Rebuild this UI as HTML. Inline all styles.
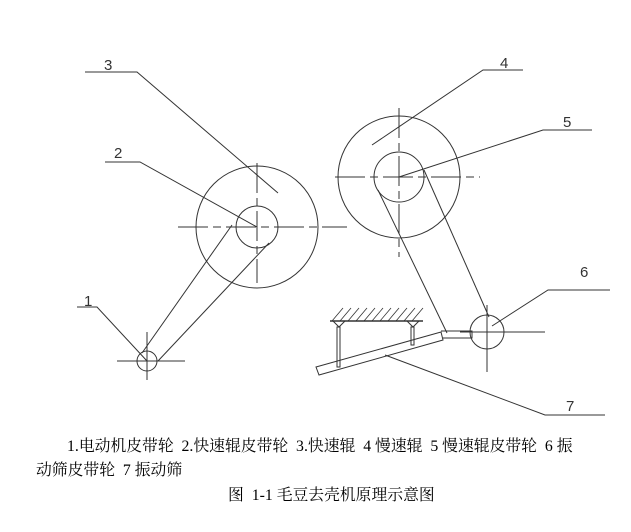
<!DOCTYPE html>
<html><head><meta charset="utf-8"><style>
body{margin:0;background:#fff;width:631px;height:532px;overflow:hidden;position:relative;font-family:"Liberation Serif","Noto Serif CJK SC",serif;}
.t{position:absolute;font-size:15.8px;color:#000;white-space:nowrap;}
</style></head><body>
<svg width="631" height="532" style="position:absolute;left:0;top:0" stroke="#333" fill="none" stroke-width="1">
<g font-family="Liberation Sans, sans-serif" font-size="15" fill="#333" stroke="none">
<text x="104" y="70">3</text><text x="114" y="158">2</text><text x="84" y="306">1</text>
<text x="500" y="68">4</text><text x="563" y="127">5</text><text x="580" y="277">6</text><text x="566" y="411">7</text>
</g>
<circle cx="257" cy="227" r="61"/><circle cx="257" cy="227" r="21"/>
<line x1="178" y1="227" x2="347" y2="227" stroke-dasharray="30,5,8,5"/>
<line x1="257" y1="163" x2="257" y2="283" stroke-dasharray="30,5,8,5"/>
<circle cx="147" cy="361" r="10"/>
<line x1="117" y1="361" x2="185" y2="361"/><line x1="147" y1="332" x2="147" y2="380"/>
<line x1="232" y1="225" x2="142" y2="353"/><line x1="269" y1="243" x2="158" y2="361"/>
<circle cx="399" cy="177" r="61"/><circle cx="399" cy="177" r="25"/>
<line x1="335" y1="177" x2="480" y2="177" stroke-dasharray="30,5,8,5"/>
<line x1="399" y1="108" x2="399" y2="257" stroke-dasharray="30,5,8,5"/>
<line x1="378" y1="190" x2="447" y2="333"/><line x1="424" y1="170" x2="489" y2="317"/>
<circle cx="487" cy="332" r="17"/>
<line x1="460" y1="332" x2="545" y2="332"/><line x1="487" y1="305" x2="487" y2="372"/>
<polyline points="85,72 137,72 278,193"/>
<polyline points="105,162 140,162 257,227"/>
<polyline points="77,307 97,307 147,361"/>
<polyline points="372,145 483,70 523,70"/>
<polyline points="399,177 543,130 592,130"/>
<polyline points="492,326 548,290 610,290"/>
<polyline points="385,355 545,415 605,415"/>
<line x1="330" y1="321" x2="423" y2="321" stroke-width="1.5"/>
<g stroke-width="0.8"><line x1="332" y1="321" x2="343" y2="308"/><line x1="340" y1="321" x2="351" y2="308"/><line x1="348" y1="321" x2="359" y2="308"/><line x1="356" y1="321" x2="367" y2="308"/><line x1="364" y1="321" x2="375" y2="308"/><line x1="372" y1="321" x2="383" y2="308"/><line x1="380" y1="321" x2="391" y2="308"/><line x1="388" y1="321" x2="399" y2="308"/><line x1="396" y1="321" x2="407" y2="308"/><line x1="404" y1="321" x2="415" y2="308"/><line x1="412" y1="321" x2="423" y2="308"/></g>
<polyline points="333,321 339,327 345,321"/><polyline points="407,321 413,327 419,321"/>
<rect x="337" y="327" width="3" height="40"/><rect x="411" y="327" width="3" height="18"/>
<polygon points="316,367 441,332 443,340 319,375"/>
<polyline points="441,331 472,331 472,338 443,338"/>
</svg>
<div class="t" style="left:67px;top:433px">1.电动机皮带轮 &nbsp;2.快速辊皮带轮 &nbsp;3.快速辊 &nbsp;4 慢速辊 &nbsp;5 慢速辊皮带轮 &nbsp;6 振</div>
<div class="t" style="left:36px;top:457px">动筛皮带轮 &nbsp;7 振动筛</div>
<div class="t" style="left:228px;top:482px">图 &nbsp;1-1 毛豆去壳机原理示意图</div>
</body></html>
